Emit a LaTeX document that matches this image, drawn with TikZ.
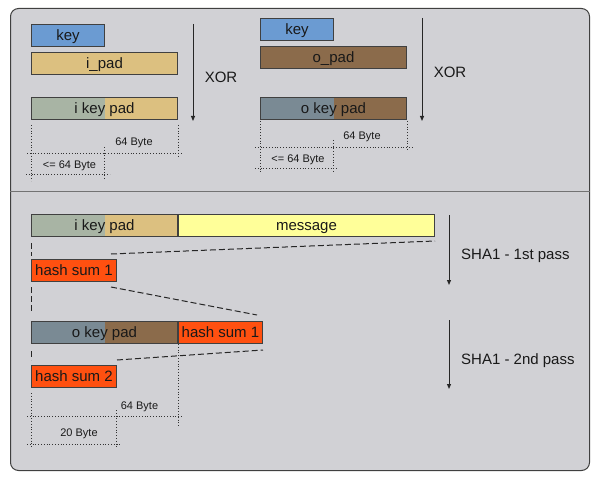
\documentclass[tikz,border=0pt]{standalone}
\usepackage{fontspec}
\setmainfont{Liberation Sans}
\usetikzlibrary{arrows.meta,positioning}

\begin{document}
\begin{tikzpicture}[
  x=1pt, y=-1pt,
  every node/.style={inner sep=0pt, text=black!90, font=\fontsize{15}{17}\selectfont},
  field/.style={draw=black!75, line width=1pt, minimum height=22pt, anchor=north west,
    text height=11.5pt, text depth=1pt},
  split/.style={path picture={\fill[#1] (path picture bounding box.north west)
      rectangle ([xshift=73pt]path picture bounding box.south west);}},
  dim/.style={draw=black!80, dotted, line width=0.8pt},
  cut/.style={draw=black!85, line width=1pt, dash pattern=on 6pt off 3pt},
  pass/.style={draw=black!85, line width=1pt, -{Triangle[length=5pt,width=4pt]}},
  byte/.style={font=\fontsize{11}{13}\selectfont},
]
%-------------------------------------------------------------
\definecolor{colorisK}{RGB}{107,155,210}
\definecolor{colorisI}{RGB}{220,192,128}
\definecolor{colorisO}{RGB}{139,107,75}
\definecolor{colorisG}{RGB}{168,180,164}
\definecolor{colorisB}{RGB}{122,138,148}
\definecolor{colorisM}{RGB}{255,255,153}
\definecolor{colorisH}{RGB}{255,80,16}
\definecolor{colorisP}{RGB}{209,209,213}

\useasboundingbox (0,0) rectangle (596,481);

\node[draw=black!75, line width=1pt, fill=colorisP, rounded corners=8pt,
  minimum width=579pt, minimum height=462pt, anchor=north west] (frame) at (10,8) {};
\coordinate (mid) at (0,191);
\draw[black!55, line width=1pt] (frame.west |- mid) -- (frame.east |- mid);

%============================================================
% inner key pad
\node[field, fill=colorisK, minimum width=73pt] (keyA) at (31,24) {key};
\node[field, fill=colorisI, minimum width=146pt] (ipad) at (31,52) {i\_pad};
\node[field, fill=colorisI, split=colorisG, minimum width=146pt] (ikpA) at (31,97) {i key pad};

\coordinate (xA1) at (193,24);
\coordinate (xA2) at (193,121);
\draw[pass] (xA1) -- (xA2);
\node (xorA) at (221,77) {XOR};

\draw[dim] ([yshift=-5pt]ikpA.south west) -- ++(0,56);
\draw[dim] ([yshift=-5pt]ikpA.south east) -- ++(0,33);
\draw[dim] (27,153) -- (183,153);
\node[byte] (byA) at (134,143) {64 Byte};
\draw[dim] (104,147) -- (104,180);
\draw[dim] (26,174) -- (110,174);
\node[byte] (byB) at (69.5,166) {<= 64 Byte};

%============================================================
% outer key pad
\node[field, fill=colorisK, minimum width=73pt] (keyB) at (260,18) {key};
\node[field, fill=colorisO, minimum width=146pt] (opad) at (260,46) {o\_pad};
\node[field, fill=colorisO, split=colorisB, minimum width=146pt] (okpA) at (260,97) {o key pad};

\coordinate (xB1) at (422,18);
\coordinate (xB2) at (422,121);
\draw[pass] (xB1) -- (xB2);
\node (xorB) at (450,72) {XOR};

\draw[dim] ([yshift=-1pt]okpA.south west) -- ++(0,53);
\draw[dim] ([yshift=-1pt]okpA.south east) -- ++(0,30);
\draw[dim] (255,147) -- (412,147);
\node[byte] (byC) at (362,137) {64 Byte};
\draw[dim] (333,140) -- (333,173);
\draw[dim] (255,168) -- (338,168);
\node[byte] (byD) at (298,160) {<= 64 Byte};

%============================================================
% first pass
\node[field, fill=colorisI, split=colorisG, minimum width=146pt] (ikpB) at (31,214) {i key pad};
\node[field, fill=colorisM, minimum width=256pt, right=0pt of ikpB] (msg) {message};
\node[field, fill=colorisH, minimum width=85pt] (hsA) at (31,259) {hash sum 1};

\draw[cut] ([xshift=-6pt,yshift=5pt]hsA.north east) -- ([yshift=-4pt]msg.south east);
\draw[cut] ([yshift=-6pt]ikpB.south west) -- ([yshift=3pt]hsA.north west);

\coordinate (pA1) at (449,215);
\coordinate (pA2) at (449,285);
\draw[pass] (pA1) -- (pA2);
\node[anchor=west] (shaA) at (461,256) {SHA1 - 1st pass};

%============================================================
% second pass
\node[field, fill=colorisO, split=colorisB, minimum width=146pt] (okpB) at (31,321) {o key pad};
\node[field, fill=colorisH, minimum width=84pt, right=0pt of okpB] (hsB) {hash sum 1};
\node[field, fill=colorisH, minimum width=85pt] (hsC) at (31,365) {hash sum 2};

\draw[cut] ([xshift=-6pt,yshift=-5pt]hsA.south east) -- ([xshift=-6pt,yshift=6pt]hsB.north east);
\draw[cut] ([yshift=5pt]hsC.north east) -- ([yshift=-6pt]hsB.south east);
\draw[cut] ([yshift=-5pt]hsA.south west) -- ([yshift=8pt]okpB.north west);
\draw[cut] ([yshift=-7pt]okpB.south west) -- ([yshift=5pt]hsC.north west);

\coordinate (pB1) at (449,320);
\coordinate (pB2) at (449,389);
\draw[pass] (pB1) -- (pB2);
\node[anchor=west] (shaB) at (461,361) {SHA1 - 2nd pass};

\draw[dim] ([yshift=-5pt]hsC.south west) -- ++(0,55);
\draw[dim] (okpB.south east) -- ++(0,82);
\draw[dim] (27,416) -- (183,416);
\node[byte] (byE) at (139.5,407) {64 Byte};
\draw[dim] (116,410) -- (116,448);
\draw[dim] (27,444) -- (121,444);
\node[byte] (byF) at (79,434) {20 Byte};

\end{tikzpicture}
\end{document}
